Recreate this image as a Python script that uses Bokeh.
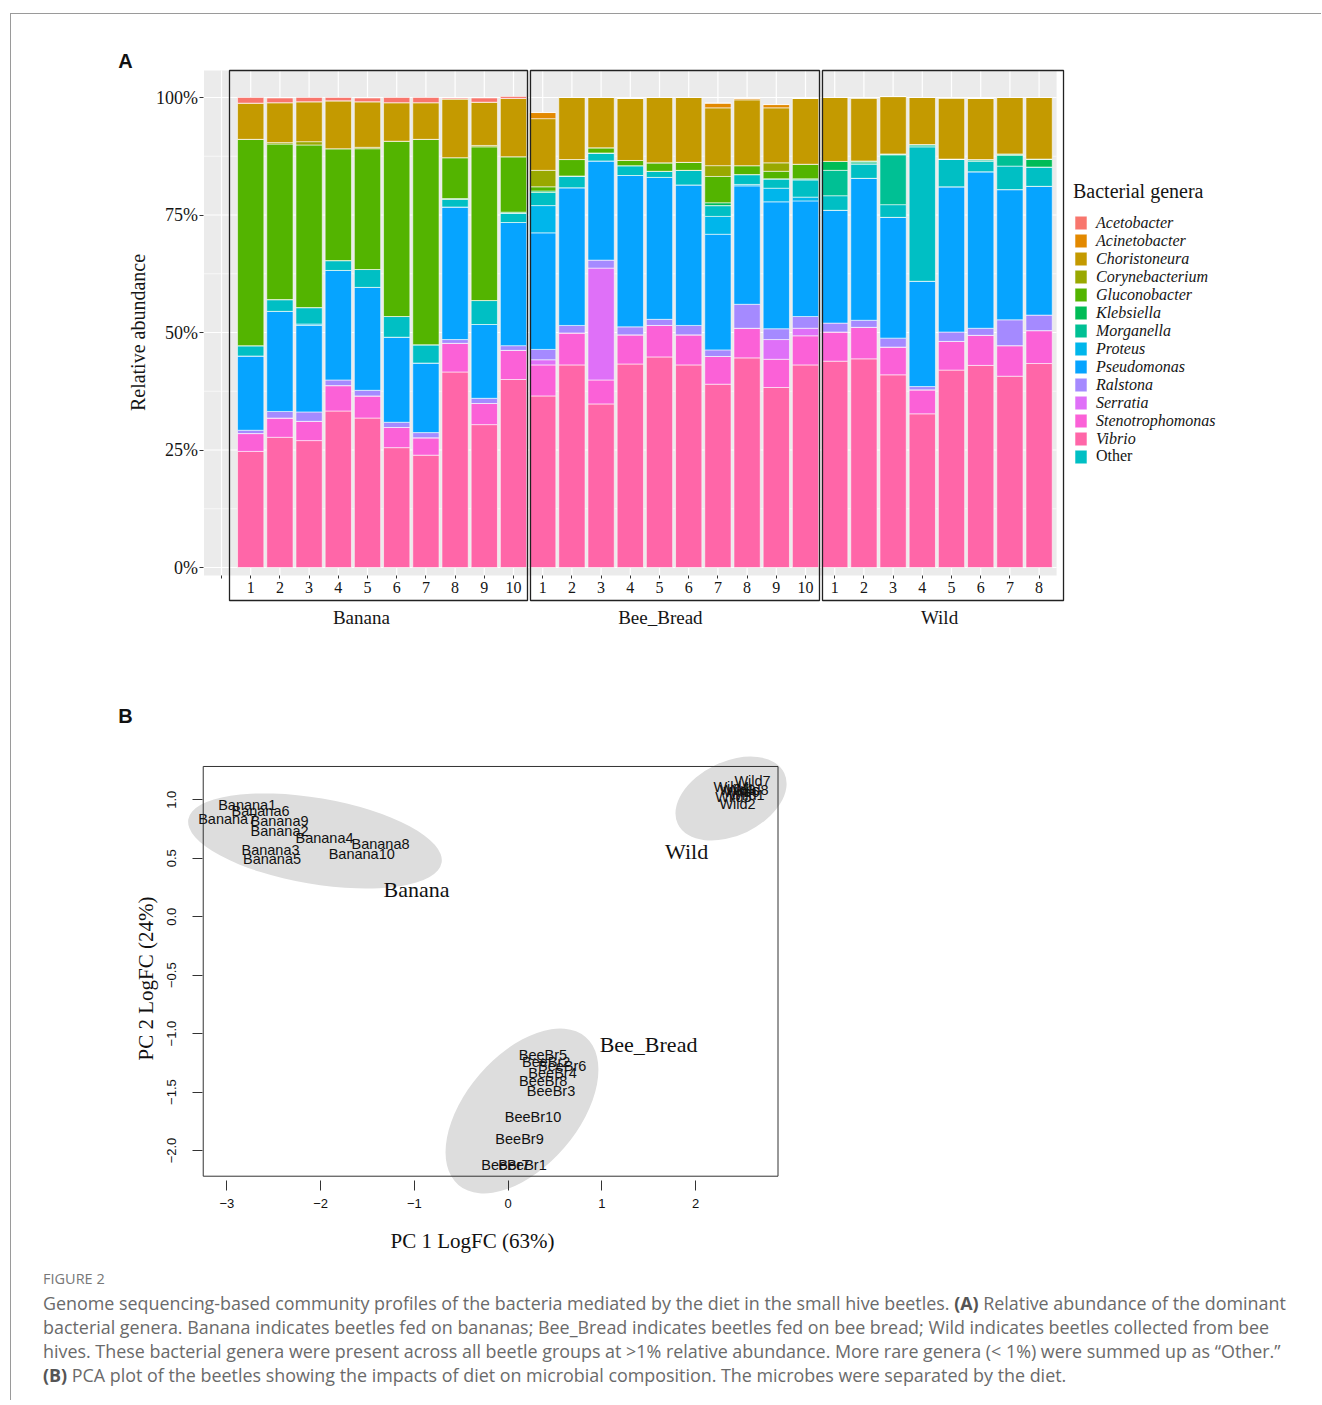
import math
from bokeh.plotting import figure
from bokeh.models import (Range1d, LinearAxis, FixedTicker, PrintfTickFormatter,
                          Legend, LegendItem, ColumnDataSource, Div)
from bokeh.layouts import column
from bokeh.embed import file_html
from bokeh.resources import INLINE
from bokeh.core.properties import value

# ====================== Panel A data ======================
groups = ["Banana", "Bee_Bread", "Wild"]
group_sizes = [10, 10, 8]
sample_labels = ([str(i) for i in range(1, 11)] + [str(i) for i in range(1, 11)]
                 + [str(i) for i in range(1, 9)])

legend_order = ["Acetobacter", "Acinetobacter", "Choristoneura", "Corynebacterium",
                "Gluconobacter", "Klebsiella", "Morganella", "Proteus", "Pseudomonas",
                "Ralstona", "Serratia", "Stenotrophomonas", "Vibrio", "Other"]
stack_order = ["Vibrio", "Stenotrophomonas", "Serratia", "Ralstona", "Pseudomonas",
               "Proteus", "Other", "Morganella", "Klebsiella", "Gluconobacter",
               "Corynebacterium", "Choristoneura", "Acinetobacter", "Acetobacter"]
genus_colors = {"Acetobacter": "#F8766D", "Acinetobacter": "#E38900",
                "Choristoneura": "#C49A00", "Corynebacterium": "#99A800",
                "Gluconobacter": "#53B400", "Klebsiella": "#00BC56",
                "Morganella": "#00C094", "Other": "#00BFC4", "Proteus": "#00B6EB",
                "Pseudomonas": "#06A4FF", "Ralstona": "#A58AFF", "Serratia": "#DF70F8",
                "Stenotrophomonas": "#FB61D7", "Vibrio": "#FF66A8"}

Vibrio = [24.7, 27.7, 27.0, 33.3, 31.8, 25.5, 23.9, 41.6, 30.4, 40.0,
          36.5, 43.1, 34.8, 43.3, 44.8, 43.1, 39.0, 44.6, 38.3, 43.1,
          43.9, 44.4, 41.0, 32.7, 42.0, 43.0, 40.7, 43.4]
Stenotrophomonas = [3.8, 4.1, 4.1, 5.4, 4.7, 4.3, 3.7, 6.1, 4.5, 6.2,
                    6.6, 6.8, 5.1, 6.2, 6.7, 6.4, 5.9, 6.3, 6.0, 6.2,
                    6.2, 6.7, 5.9, 5.1, 6.1, 6.4, 6.5, 7.0]
Serratia = [0, 0, 0, 0, 0, 0, 0, 0, 0, 0,
            1.1, 0, 23.8, 0, 0, 0, 0, 0, 4.2, 1.6,
            0, 0, 0, 0, 0, 0, 0, 0]
Ralstona = [0.7, 1.4, 2.0, 1.2, 1.2, 1.1, 1.1, 0.8, 1.1, 1.0,
            2.2, 1.6, 1.7, 1.7, 1.3, 2.0, 1.4, 5.1, 2.3, 2.5,
            1.9, 1.5, 1.9, 0.7, 2.0, 1.5, 5.5, 3.3]
Pseudomonas = [15.8, 21.3, 18.4, 23.3, 21.9, 18.1, 14.8, 28.2, 15.7, 26.2,
               24.8, 29.3, 21.1, 32.2, 30.2, 29.9, 24.6, 25.2, 27.0, 24.6,
               24.0, 30.2, 25.7, 22.4, 30.9, 33.3, 27.7, 27.4]
Proteus = [0, 0, 0.3, 0, 0, 0, 0, 0, 0, 0,
           5.8, 0, 0, 0, 0, 0, 3.8, 0.3, 2.9, 0.8,
           0, 0, 0, 0, 0, 0, 0, 0]
Other = [2.2, 2.5, 3.5, 2.1, 3.8, 4.4, 3.9, 1.6, 5.1, 2.0,
         2.8, 2.5, 1.7, 2.1, 1.3, 3.1, 2.3, 2.1, 2.0, 3.7,
         3.1, 3.0, 2.7, 28.6, 5.9, 2.2, 5.0, 4.1]
Morganella = [0, 0, 0, 0, 0, 0, 0, 0, 0, 0,
              0, 0, 0, 0, 0, 0, 0, 0, 0, 0,
              5.4, 0.3, 10.6, 0.4, 0, 0.3, 2.3, 0]
Klebsiella = [0, 0, 0, 0, 0, 0, 0, 0.2, 0, 0.2,
              0.3, 0, 0, 0, 0, 0, 0.6, 0, 0, 0.2,
              1.9, 0.4, 0.2, 0.1, 0, 0.1, 0.3, 1.7]
Gluconobacter = [43.9, 33.1, 34.6, 23.8, 25.7, 37.3, 43.7, 8.7, 32.7, 11.8,
                 0.9, 3.5, 1.1, 1.1, 1.8, 1.7, 5.6, 1.9, 1.6, 3.1,
                 0, 0, 0, 0, 0, 0, 0, 0]
Corynebacterium = [0, 0.3, 0.7, 0, 0.3, 0, 0, 0, 0.3, 0,
                   3.5, 0, 0, 0, 0, 0, 2.3, 0, 1.8, 0,
                   0, 0, 0, 0, 0, 0, 0, 0]
Choristoneura = [7.7, 8.5, 8.5, 10.2, 9.7, 8.2, 7.8, 12.5, 9.2, 12.4,
                 11.0, 13.2, 10.7, 13.2, 13.9, 13.8, 12.3, 14.0, 11.7, 14.0,
                 13.6, 13.4, 12.2, 10.0, 13.0, 13.0, 12.0, 13.1]
Acinetobacter = [0, 0, 0, 0, 0, 0, 0, 0, 0, 0,
                 1.3, 0, 0, 0, 0, 0, 1.0, 0.3, 0.7, 0,
                 0, 0, 0, 0, 0, 0, 0, 0]
Acetobacter = [1.2, 1.0, 0.9, 0.7, 0.8, 1.1, 1.1, 0.2, 0.9, 0.4,
               0, 0, 0, 0, 0, 0, 0, 0, 0, 0,
               0, 0, 0, 0, 0, 0, 0, 0]

pct_ticks = [0, 25, 50, 75, 100]

# ====================== Panel B data ======================
banana_names = ["Banana%d" % i for i in range(1, 11)]
banana_pc1 = [-2.783, -2.438, -2.534, -1.958, -2.518, -2.641, -2.996, -1.361, -2.438, -1.561]
banana_pc2 = [0.957, 0.737, 0.572, 0.672, 0.495, 0.900, 0.840, 0.624, 0.817, 0.538]
bee_names = ["BeeBr%d" % i for i in range(1, 11)]
bee_pc1 = [0.154, 0.407, 0.458, 0.474, 0.372, 0.577, -0.028, 0.375, 0.122, 0.266]
bee_pc2 = [-2.120, -1.245, -1.493, -1.335, -1.187, -1.281, -2.120, -1.407, -1.900, -1.715]
wild_names = ["Wild%d" % i for i in range(1, 9)]
wild_pc1 = [2.543, 2.447, 2.447, 2.383, 2.404, 2.490, 2.607, 2.585]
wild_pc2 = [1.045, 0.968, 1.088, 1.113, 1.028, 1.071, 1.157, 1.088]

ellipse_cx = [-2.060, 0.148, 2.378]
ellipse_cy = [0.648, -1.662, 1.011]
group_label_x = [-0.977, 1.498, 1.904]
group_label_y = [0.233, -1.096, 0.558]
pc1_ticks = [-3, -2, -1, 0, 1, 2]
pc2_ticks = [-2.0, -1.5, -1.0, -0.5, 0.0, 0.5, 1.0]

# ====================== layout constants ======================
W = 1300
SERIF = "Liberation Serif"
SANS = "Liberation Sans"
TXT = "#151515"

# ---------------- Panel A figure ----------------
HA = 636
PX_A, X0_A = 29.2, 221 - 11
PY_A, Y0_A = 4.7, 567 - 14
pA = figure(width=W, height=HA,
            x_range=Range1d(-X0_A / PX_A, (W - X0_A) / PX_A),
            y_range=Range1d((Y0_A - HA) / PY_A, Y0_A / PY_A),
            output_backend="svg", toolbar_location=None,
            x_axis_location=None, y_axis_location=None, min_border=0, title=None)
pA.outline_line_color = None
pA.xgrid.grid_line_color = None
pA.ygrid.grid_line_color = None

n = len(sample_labels)
panel_l, panel_r = -0.6, n + 0.6
panel_b, panel_t = -1.7, 105.74

pA.quad(left=panel_l, right=panel_r, bottom=panel_b, top=panel_t,
        fill_color="#EBEBEB", line_color=None)
minor = [12.5, 37.5, 62.5, 87.5]
pA.segment(x0=panel_l, x1=panel_r, y0=minor, y1=minor, line_color="white", line_width=0.6)
pA.segment(x0=panel_l, x1=panel_r, y0=pct_ticks, y1=pct_ticks, line_color="white", line_width=1.2)
xs_grid = list(range(0, n + 1))
pA.segment(x0=xs_grid, x1=xs_grid, y0=panel_b, y1=panel_t, line_color="white", line_width=1.2)

values = {"Vibrio": Vibrio, "Stenotrophomonas": Stenotrophomonas, "Serratia": Serratia,
          "Ralstona": Ralstona, "Pseudomonas": Pseudomonas, "Proteus": Proteus,
          "Other": Other, "Morganella": Morganella, "Klebsiella": Klebsiella,
          "Gluconobacter": Gluconobacter, "Corynebacterium": Corynebacterium,
          "Choristoneura": Choristoneura, "Acinetobacter": Acinetobacter,
          "Acetobacter": Acetobacter}
data = dict(x=list(range(1, n + 1)))
data.update(values)
src = ColumnDataSource(data)
rends = pA.vbar_stack(stack_order, x="x", width=0.9, source=src,
                      fill_color=[genus_colors[g] for g in stack_order],
                      line_color="white", line_width=0.7, line_alpha=0.8)
rmap = dict(zip(stack_order, rends))

# facet boxes
box_left = [0.274, 10.582, 20.582]
box_right = [10.479, 20.479, 28.836]
pA.quad(left=box_left, right=box_right, bottom=-7.02, top=panel_t,
        fill_color=None, line_color="#222222", line_width=1.3)

# x ticks / labels
xa = LinearAxis(fixed_location=panel_b,
                ticker=FixedTicker(ticks=list(range(0, n + 1))),
                major_label_overrides={0: "", **{i + 1: s for i, s in enumerate(sample_labels)}})
xa.axis_line_color = None
xa.major_tick_line_color = "#333333"
xa.major_tick_out = 3
xa.major_tick_in = 0
xa.minor_tick_line_color = None
xa.major_label_standoff = 4
xa.major_label_text_font = SERIF
xa.major_label_text_font_size = "16px"
xa.major_label_text_color = TXT
pA.add_layout(xa, "below")

# y axis
ya = LinearAxis(fixed_location=panel_l, ticker=FixedTicker(ticks=pct_ticks),
                formatter=PrintfTickFormatter(format="%d%%"),
                axis_label="Relative abundance")
ya.axis_line_color = None
ya.major_tick_line_color = "#333333"
ya.major_tick_out = 4
ya.major_tick_in = 0
ya.minor_tick_line_color = None
ya.major_label_standoff = 2
ya.major_label_text_font = SERIF
ya.major_label_text_font_size = "18px"
ya.major_label_text_color = TXT
ya.axis_label_text_font = SERIF
ya.axis_label_text_font_size = "20px"
ya.axis_label_text_font_style = "normal"
ya.axis_label_text_color = TXT
ya.axis_label_standoff = 4
pA.add_layout(ya, "left")

# facet strip labels
facet_x = [4.79, 15.03, 24.59]
pA.text(x=facet_x, y=[-10.64] * 3, text=groups, text_font=value(SERIF),
        text_font_size="19px", text_align="center", text_baseline="middle", text_color=TXT)

# panel letter
pA.text(x=[-3.288], y=[107.87], text=["A"], text_font=value(SANS), text_font_style="bold",
        text_font_size="20px", text_align="center", text_baseline="middle", text_color="#111111")

# legends
leg_common = dict(padding=0, margin=0, spacing=0, glyph_width=15, glyph_height=17,
                  label_height=17, label_standoff=8, label_text_font=SERIF,
                  label_text_font_size="16px", label_text_color=TXT,
                  border_line_color=None, background_fill_alpha=0)
leg1 = Legend(items=[LegendItem(label=g, renderers=[rmap[g]]) for g in legend_order[:-1]],
              title="Bacterial genera", title_text_font=SERIF, title_text_font_size="20px",
              title_text_font_style="normal", title_text_color=TXT, title_standoff=11,
              label_text_font_style="italic", location=(1062, 202.5), **leg_common)
leg2 = Legend(items=[LegendItem(label="Other", renderers=[rmap["Other"]])],
              label_text_font_style="normal", location=(1062, 184.6), **leg_common)
pA.add_layout(leg1)
pA.add_layout(leg2)

# ---------------- Panel B figure ----------------
HB = 612
PX_B, X0_B = 93.75, 507.6 - 11
PY_B, Y0_B = 116.9, 916.2 - 650
pB = figure(width=W, height=HB,
            x_range=Range1d(-X0_B / PX_B, (W - X0_B) / PX_B),
            y_range=Range1d((Y0_B - HB) / PY_B, Y0_B / PY_B),
            output_backend="svg", toolbar_location=None,
            x_axis_location=None, y_axis_location=None, min_border=0, title=None)
pB.outline_line_color = None
pB.xgrid.grid_line_color = None
pB.ygrid.grid_line_color = None

pB.ellipse(x=ellipse_cx, y=ellipse_cy, width=[257, 195, 118], height=[86, 112, 74],
           angle=[-9.7, 49.3, 25.6], angle_units="deg",
           width_units="screen", height_units="screen",
           fill_color="#DDDDDD", line_color=None)

box_x0, box_x1, box_y0, box_y1 = -3.252, 2.879, -2.220, 1.285
pB.quad(left=box_x0, right=box_x1, bottom=box_y0, top=box_y1,
        fill_color=None, line_color="#333333", line_width=1)

names = banana_names + bee_names + wild_names
pc1 = banana_pc1 + bee_pc1 + wild_pc1
pc2 = banana_pc2 + bee_pc2 + wild_pc2
pB.text(x=pc1, y=pc2, text=names, text_font=value(SANS), text_font_size="14.5px",
        text_align="center", text_baseline="middle", text_color="#111111")
pB.text(x=group_label_x, y=group_label_y, text=groups, text_font=value(SERIF),
        text_font_size="22px", text_align="center", text_baseline="middle", text_color="#111111")

def minus(v, fmt):
    s = fmt % v
    return s.replace("-", "\u2212")

bx = LinearAxis(fixed_location=-2.253, ticker=FixedTicker(ticks=pc1_ticks),
                major_label_overrides={t: minus(t, "%d") for t in pc1_ticks})
by = LinearAxis(fixed_location=-3.263, ticker=FixedTicker(ticks=pc2_ticks),
                major_label_overrides={t: minus(t, "%.1f") for t in pc2_ticks})
for ax in (bx, by):
    ax.axis_line_color = None
    ax.major_tick_line_color = "#333333"
    ax.major_tick_out = 10
    ax.major_tick_in = 0
    ax.minor_tick_line_color = None
    ax.major_label_text_font = SANS
    ax.major_label_text_font_size = "13px"
    ax.major_label_text_color = "#111111"
bx.major_label_standoff = 9
by.major_label_standoff = 16
by.major_label_orientation = "parallel"
pB.add_layout(bx, "below")
pB.add_layout(by, "left")

pB.text(x=[-0.380], y=[-2.770], text=["PC 1 LogFC (63%)"], text_font=value(SERIF),
        text_font_size="21px", text_align="center", text_baseline="middle", text_color="#111111")
pB.text(x=[-3.860], y=[-0.529], text=["PC 2 LogFC (24%)"], text_font=value(SERIF),
        text_font_size="21px", text_align="center", text_baseline="middle",
        angle=90, angle_units="deg", text_color="#111111")
pB.text(x=[-4.081], y=[1.7126], text=["B"], text_font=value(SANS), text_font_style="bold",
        text_font_size="20px", text_align="center", text_baseline="middle", text_color="#111111")

# ---------------- caption ----------------
cap_html = (
    '<div style="font-family:\'Open Sans\',sans-serif;color:#6a6a6a;padding:0 0 0 27px;'
    'white-space:nowrap;">'
    '<div style="font-size:14.5px;line-height:24px;color:#777777;">FIGURE 2</div>'
    '<div style="font-size:17.9px;line-height:24px;">'
    'Genome sequencing-based community profiles of the bacteria mediated by the diet in the small '
    'hive beetles. <b style="color:#555">(A)</b> Relative abundance of the dominant<br>'
    'bacterial genera. Banana indicates beetles fed on bananas; Bee_Bread indicates beetles fed on '
    'bee bread; Wild indicates beetles collected from bee<br>'
    'hives. These bacterial genera were present across all beetle groups at &gt;1% relative '
    'abundance. More rare genera (&lt; 1%) were summed up as \u201cOther.\u201d<br>'
    '<b style="color:#555">(B)</b> PCA plot of the beetles showing the impacts of diet on microbial '
    'composition. The microbes were separated by the diet.</div></div>'
)
cap = Div(text=cap_html, width=W, height=128)

root = column(pA, pB, cap, margin=(13, 0, 0, 10),
              styles={"border-left": "1px solid #9a9a9a", "border-top": "1px solid #9a9a9a"})

open("out.html", "w").write(file_html(root, INLINE))
